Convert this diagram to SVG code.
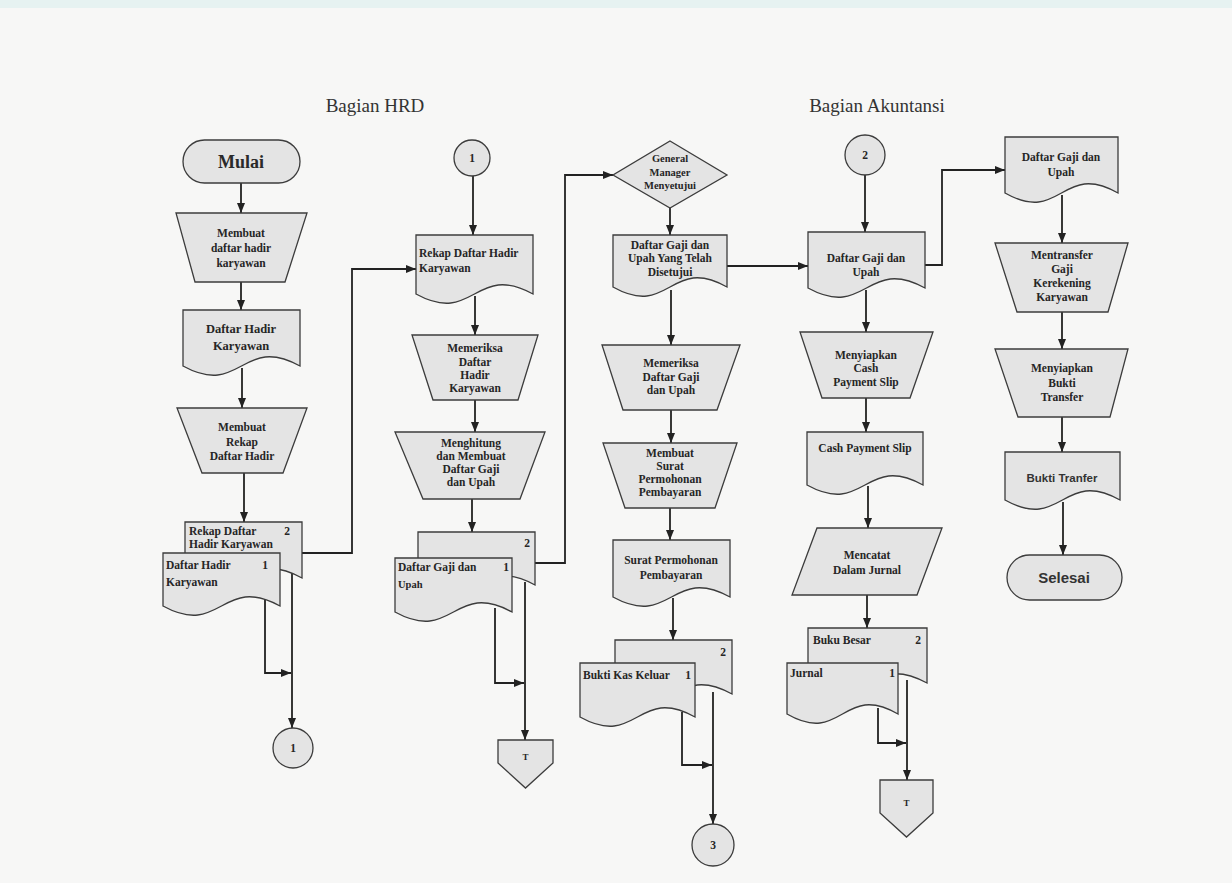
<svg xmlns="http://www.w3.org/2000/svg" width="1232" height="883" viewBox="0 0 1232 883">
<defs>
<style>
.n{fill:#e4e4e4;stroke:#3c3c3c;stroke-width:1.3}
.t{font-family:"Liberation Serif",serif;font-size:11.5px;font-weight:bold;fill:#262626;text-anchor:middle}
.tl{font-family:"Liberation Serif",serif;font-size:11.5px;font-weight:bold;fill:#262626;text-anchor:start}
.ts{font-family:"Liberation Sans",sans-serif;font-weight:bold;fill:#333;text-anchor:middle}
.ttl{font-family:"Liberation Serif",serif;font-size:19px;fill:#333;text-anchor:middle}
.c{fill:none;stroke:#222;stroke-width:1.8;marker-end:url(#ah)}
</style>
<marker id="ah" viewBox="0 0 10 8" refX="10" refY="4" markerWidth="10" markerHeight="8" markerUnits="userSpaceOnUse" orient="auto"><path d="M0,0 L10,4 L0,8 Z" fill="#222"/></marker>
</defs>
<rect x="0" y="0" width="1232" height="883" fill="#f7f7f6"/>
<rect x="0" y="0" width="1232" height="8" fill="#e6f2f1"/>

<text class="ttl" x="375" y="112">Bagian HRD</text>
<text class="ttl" x="877" y="112">Bagian Akuntansi</text>

<g id="connectors">
<path class="c" d="M241 183 V213"/>
<path class="c" d="M241 282 V310"/>
<path class="c" d="M242 368 V408"/>
<path class="c" d="M244 473 V522"/>
<path class="c" d="M302 553 H352 V269 H416"/>
<path class="c" d="M265 600 V673 H291"/>
<path class="c" d="M292 570 V728"/>
<path class="c" d="M473 176 V235"/>
<path class="c" d="M475 296 V335"/>
<path class="c" d="M475 400 V432"/>
<path class="c" d="M472 499 V532"/>
<path class="c" d="M535 563 H565 V175 H613"/>
<path class="c" d="M495 608 V683 H524"/>
<path class="c" d="M525 582 V740"/>
<path class="c" d="M670 208 V235"/>
<path class="c" d="M727 266 H808"/>
<path class="c" d="M671 290 V345"/>
<path class="c" d="M671 410 V443"/>
<path class="c" d="M670 508 V540"/>
<path class="c" d="M673 598 V640"/>
<path class="c" d="M682 712 V765 H712"/>
<path class="c" d="M713 692 V824"/>
<path class="c" d="M865 175 V232"/>
<path class="c" d="M925 265 H942 V170 H1005"/>
<path class="c" d="M866 290 V332"/>
<path class="c" d="M866 398 V432"/>
<path class="c" d="M868 486 V528"/>
<path class="c" d="M867 595 V628"/>
<path class="c" d="M878 708 V743 H906"/>
<path class="c" d="M907 680 V780"/>
<path class="c" d="M1062 195 V243"/>
<path class="c" d="M1062 312 V349"/>
<path class="c" d="M1062 417 V452"/>
<path class="c" d="M1063 502 V555"/>
</g>

<g id="mulai">
<rect class="n" x="183" y="140" width="117" height="43" rx="21.5"/>
<text x="241" y="168" style="font-family:'Liberation Serif',serif;font-size:18px;font-weight:bold;fill:#2a2a2a;text-anchor:middle">Mulai</text>
</g>
<g id="membuat-daftar-hadir">
<polygon class="n" points="176,213 307,213 285,282 195,282"/>
<text class="t" x="241" y="237">Membuat</text>
<text class="t" x="241" y="252">daftar hadir</text>
<text class="t" x="241" y="267">karyawan</text>
</g>
<g id="doc-daftar-hadir">
<path class="n" d="M183 310 H300 V366 C241.5 334 241.5 398 183 366 Z"/>
<text class="t" x="241" y="333" style="font-size:12.5px">Daftar Hadir</text>
<text class="t" x="241" y="350" style="font-size:12.5px">Karyawan</text>
</g>
<g id="membuat-rekap">
<polygon class="n" points="177,408 307,408 283,473 202,473"/>
<text class="t" x="242" y="431">Membuat</text>
<text class="t" x="242" y="446">Rekap</text>
<text class="t" x="242" y="460">Daftar Hadir</text>
</g>
<g id="multidoc-hrd-1">
<path class="n" d="M185 522 H302 V578 C243.5 546 243.5 610 185 578 Z"/>
<text class="tl" x="189" y="535">Rekap Daftar</text>
<text class="t" x="287" y="535">2</text>
<text class="tl" x="189" y="548">Hadir Karyawan</text>
<path class="n" d="M163 553 H280 V606 C221.5 574 221.5 638 163 606 Z"/>
<text class="tl" x="166" y="569">Daftar Hadir</text>
<text class="t" x="265" y="569">1</text>
<text class="tl" x="166" y="586">Karyawan</text>
</g>
<g id="conn-1-out">
<circle class="n" cx="293" cy="748" r="20"/>
<text class="t" x="293" y="752">1</text>
</g>

<g id="conn-1-in">
<circle class="n" cx="472" cy="158" r="18"/>
<text class="t" x="472" y="162">1</text>
</g>
<g id="doc-rekap">
<path class="n" d="M416 235 H533 V294 C474.5 262 474.5 326 416 294 Z"/>
<text class="tl" x="419" y="257">Rekap Daftar Hadir</text>
<text class="tl" x="419" y="272">Karyawan</text>
</g>
<g id="memeriksa-hadir">
<polygon class="n" points="412,335 538,335 518,400 433,400"/>
<text class="t" x="475" y="352">Memeriksa</text>
<text class="t" x="475" y="366">Daftar</text>
<text class="t" x="475" y="379">Hadir</text>
<text class="t" x="475" y="392">Karyawan</text>
</g>
<g id="menghitung">
<polygon class="n" points="395,432 545,432 520,499 423,499"/>
<text class="t" x="471" y="447">Menghitung</text>
<text class="t" x="471" y="460">dan Membuat</text>
<text class="t" x="471" y="473">Daftar Gaji</text>
<text class="t" x="471" y="486">dan Upah</text>
</g>
<g id="multidoc-hrd-2">
<path class="n" d="M418 532 H535 V585 C476.5 553 476.5 617 418 585 Z"/>
<text class="t" x="527" y="547">2</text>
<path class="n" d="M395 558 H512 V612 C453.5 580 453.5 644 395 612 Z"/>
<text class="tl" x="398" y="571">Daftar Gaji dan</text>
<text class="t" x="506" y="571">1</text>
<text class="tl" x="398" y="588" style="font-size:10.5px">Upah</text>
</g>
<g id="offpage-1">
<polygon class="n" points="498,740 553,740 553,763 525.5,788 498,763"/>
<text class="t" x="525.5" y="760" style="font-size:9px">T</text>
</g>

<g id="gm-menyetujui">
<polygon class="n" points="670,141 727,175 670,208 613,175"/>
<text class="t" x="670" y="162" style="font-size:10.5px">General</text>
<text class="t" x="670" y="176" style="font-size:10.5px">Manager</text>
<text class="t" x="670" y="189" style="font-size:10.5px">Menyetujui</text>
</g>
<g id="doc-disetujui">
<path class="n" d="M613 235 H727 V287 C670 255 670 319 613 287 Z"/>
<text class="t" x="670" y="249">Daftar Gaji dan</text>
<text class="t" x="670" y="262">Upah Yang Telah</text>
<text class="t" x="670" y="276">Disetujui</text>
</g>
<g id="memeriksa-gaji">
<polygon class="n" points="602,345 740,345 717,410 623,410"/>
<text class="t" x="671" y="367">Memeriksa</text>
<text class="t" x="671" y="381">Daftar Gaji</text>
<text class="t" x="671" y="394">dan Upah</text>
</g>
<g id="membuat-surat">
<polygon class="n" points="603,443 737,443 715,508 625,508"/>
<text class="t" x="670" y="457">Membuat</text>
<text class="t" x="670" y="470">Surat</text>
<text class="t" x="670" y="483">Permohonan</text>
<text class="t" x="670" y="496">Pembayaran</text>
</g>
<g id="doc-surat">
<path class="n" d="M613 540 H730 V597 C671.5 565 671.5 629 613 597 Z"/>
<text class="t" x="671" y="564">Surat Permohonan</text>
<text class="t" x="671" y="579">Pembayaran</text>
</g>
<g id="multidoc-bkk">
<path class="n" d="M615 640 H732 V694 C673.5 662 673.5 726 615 694 Z"/>
<text class="t" x="723" y="656">2</text>
<path class="n" d="M580 663 H695 V717 C637.5 685 637.5 749 580 717 Z"/>
<text class="tl" x="583" y="679">Bukti Kas Keluar</text>
<text class="t" x="688" y="679">1</text>
</g>
<g id="conn-3">
<circle class="n" cx="713" cy="845" r="21"/>
<text class="t" x="713" y="849">3</text>
</g>

<g id="conn-2">
<circle class="n" cx="865" cy="155" r="20"/>
<text class="t" x="865" y="159">2</text>
</g>
<g id="doc-gaji-akt">
<path class="n" d="M808 232 H925 V288 C866.5 256 866.5 320 808 288 Z"/>
<text class="t" x="866" y="262">Daftar Gaji dan</text>
<text class="t" x="866" y="276">Upah</text>
</g>
<g id="menyiapkan-cps">
<polygon class="n" points="800,332 933,332 910,398 822,398"/>
<text class="t" x="866" y="359">Menyiapkan</text>
<text class="t" x="866" y="372">Cash</text>
<text class="t" x="866" y="386">Payment Slip</text>
</g>
<g id="doc-cps">
<path class="n" d="M807 432 H923 V485 C865 453 865 517 807 485 Z"/>
<text class="t" x="865" y="452">Cash Payment Slip</text>
</g>
<g id="mencatat-jurnal">
<polygon class="n" points="817,528 942,528 917,595 792,595"/>
<text class="t" x="867" y="559">Mencatat</text>
<text class="t" x="867" y="574">Dalam Jurnal</text>
</g>
<g id="multidoc-jurnal">
<path class="n" d="M808 628 H927 V683 C867.5 651 867.5 715 808 683 Z"/>
<text class="tl" x="813" y="644">Buku Besar</text>
<text class="t" x="918" y="644">2</text>
<path class="n" d="M787 663 H898 V714 C842.5 682 842.5 746 787 714 Z"/>
<text class="tl" x="790" y="677">Jurnal</text>
<text class="t" x="892" y="677">1</text>
</g>
<g id="offpage-2">
<polygon class="n" points="880,780 933,780 933,813 906.5,837 880,813"/>
<text class="t" x="906.5" y="806" style="font-size:9px">T</text>
</g>

<g id="doc-gaji-transfer">
<path class="n" d="M1005 137 H1118 V193 C1061.5 161 1061.5 225 1005 193 Z"/>
<text class="t" x="1061" y="161">Daftar Gaji dan</text>
<text class="t" x="1061" y="176">Upah</text>
</g>
<g id="mentransfer">
<polygon class="n" points="995,243 1128,243 1108,312 1017,312"/>
<text class="t" x="1062" y="259">Mentransfer</text>
<text class="t" x="1062" y="273">Gaji</text>
<text class="t" x="1062" y="287">Kerekening</text>
<text class="t" x="1062" y="301">Karyawan</text>
</g>
<g id="menyiapkan-bukti">
<polygon class="n" points="995,349 1128,349 1110,417 1018,417"/>
<text class="t" x="1062" y="372">Menyiapkan</text>
<text class="t" x="1062" y="387">Bukti</text>
<text class="t" x="1062" y="401">Transfer</text>
</g>
<g id="doc-bukti-tranfer">
<path class="n" d="M1005 452 H1120 V500 C1062.5 468 1062.5 532 1005 500 Z"/>
<text class="ts" x="1062" y="482" style="font-size:11.5px">Bukti Tranfer</text>
</g>
<g id="selesai">
<rect class="n" x="1007" y="555" width="115" height="45" rx="22.5"/>
<text class="ts" x="1064" y="583" style="font-size:15px">Selesai</text>
</g>
</svg>
